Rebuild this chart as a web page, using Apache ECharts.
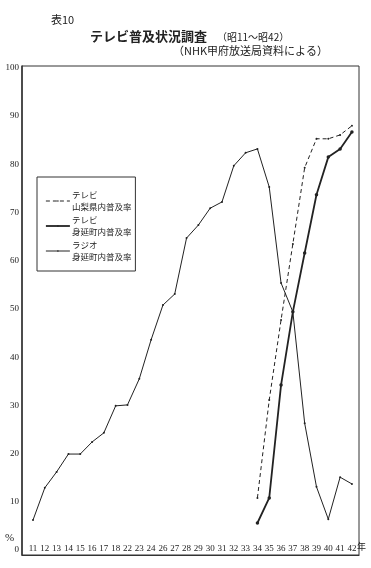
<!DOCTYPE html>
<html><head><meta charset="utf-8">
<script src="https://cdn.jsdelivr.net/npm/echarts@6/dist/echarts.min.js"></script>
<style>html,body{margin:0;padding:0;background:#fff}#c{width:371px;height:568px}</style>
</head><body><div id="c"></div>
<script>
// Year categories (昭和)
const categories = ['11','12','13','14','15','16','17','18','22','23','24','26','27','28','29','30','31','32','33','34','35','36','37','38','39','40','41','42'];
// ラジオ 身延町内普及率 (one value per category)
const radioMinobu = [6.2,12.9,16.2,19.9,19.9,22.4,24.3,29.9,30.1,35.5,43.6,50.8,53.1,64.7,67.4,70.9,72.2,79.7,82.4,83.2,75.3,55.4,49.4,26.3,13.1,6.4,15.1,13.7];
// テレビ series years
const tvYears = ['34','35','36','37','38','39','40','41','42'];
// テレビ 山梨県内普及率
const tvYamanashi = [10.8,31.1,47.7,63.5,79.3,85.3,85.3,86.1,88.0];
// テレビ 身延町内普及率
const tvMinobu = [5.6,10.8,34.2,49.4,61.6,73.7,81.5,83.2,86.7];
// y tick labels
const yTicks = [0,10,20,30,40,50,60,70,80,90,100];

const nameYam = 'テレビ\n山梨県内普及率';
const nameMin = 'テレビ\n身延町内普及率';
const nameRad = 'ラジオ\n身延町内普及率';

const toPairs = (years, vals) => years.map((y,i)=>[categories.indexOf(y), vals[i]]);
const ink = '#222';
const serif = '"Liberation Serif","DejaVu Serif",serif';
const jp = '"Noto Sans CJK JP",sans-serif';

const chart = echarts.init(document.getElementById('c'));
chart.setOption({
  backgroundColor:'#fff',
  animation:false,
  title:[
    {text:'表10', left:46, top:9, textStyle:{fontSize:11, fontWeight:'normal', color:ink, fontFamily:jp}},
    {text:'テレビ普及状況調査', left:85, top:25, textStyle:{fontSize:13, fontWeight:'bold', color:ink, fontFamily:jp}},
    {text:'（昭11〜昭42）', left:212, top:27, textStyle:{fontSize:10, fontWeight:'normal', color:ink, fontFamily:jp}},
    {text:'（NHK甲府放送局資料による）', left:168, top:40, textStyle:{fontSize:11, fontWeight:'normal', color:ink, fontFamily:jp}}
  ],
  grid:{left:22, top:66, right:12, bottom:13, show:true, borderColor:'#333', borderWidth:1},
  legend:{
    orient:'vertical', left:37, top:177, width:103,
    padding:[12,4,8,8], itemGap:1, itemWidth:24, itemHeight:2,
    borderColor:'#333', borderWidth:1, backgroundColor:'#fff',
    data:[
      {name:nameYam, lineStyle:{width:1}},
      {name:nameMin, lineStyle:{width:1.8}},
      {name:nameRad, lineStyle:{width:1}}
    ],
    textStyle:{fontSize:8.5, lineHeight:12, color:ink, fontFamily:jp, padding:[0,0,0,-3]}
  },
  xAxis:{
    type:'value', min:-0.93, max:27.6,
    axisLine:{show:true, onZero:false, lineStyle:{color:'#333', width:1.2}},
    axisTick:{show:false}, splitLine:{show:false},
    axisLabel:{inside:true, margin:2, fontSize:9, color:ink, fontFamily:serif,
      customValues: categories.map((c,i)=>i),
      formatter:(v)=>categories[Math.round(v)] || ''}
  },
  yAxis:{
    type:'value', min:-1.04, max:100.4,
    axisLine:{show:true, onZero:false, lineStyle:{color:'#333', width:1.5}},
    axisTick:{show:false}, splitLine:{show:false},
    axisLabel:{margin:3, fontSize:9, color:ink, fontFamily:serif, customValues: yTicks}
  },
  graphic:[
    {type:'text', left:5, top:533, style:{text:'%', fontSize:11, fill:ink, fontFamily:serif}},
    {type:'text', left:357, top:542, style:{text:'年', fontSize:9, fill:ink, fontFamily:jp}}
  ],
  series:[
    {name:nameYam, type:'line', data:toPairs(tvYears,tvYamanashi),
      symbol:'circle', symbolSize:2, itemStyle:{color:ink},
      lineStyle:{color:ink, width:1, type:[4,3]}},
    {name:nameMin, type:'line', data:toPairs(tvYears,tvMinobu),
      symbol:'circle', symbolSize:3.5, itemStyle:{color:ink},
      lineStyle:{color:ink, width:1.8}},
    {name:nameRad, type:'line', data:radioMinobu.map((v,i)=>[i,v]),
      symbol:'circle', symbolSize:2, itemStyle:{color:ink},
      lineStyle:{color:ink, width:1}}
  ]
});
</script></body></html>
